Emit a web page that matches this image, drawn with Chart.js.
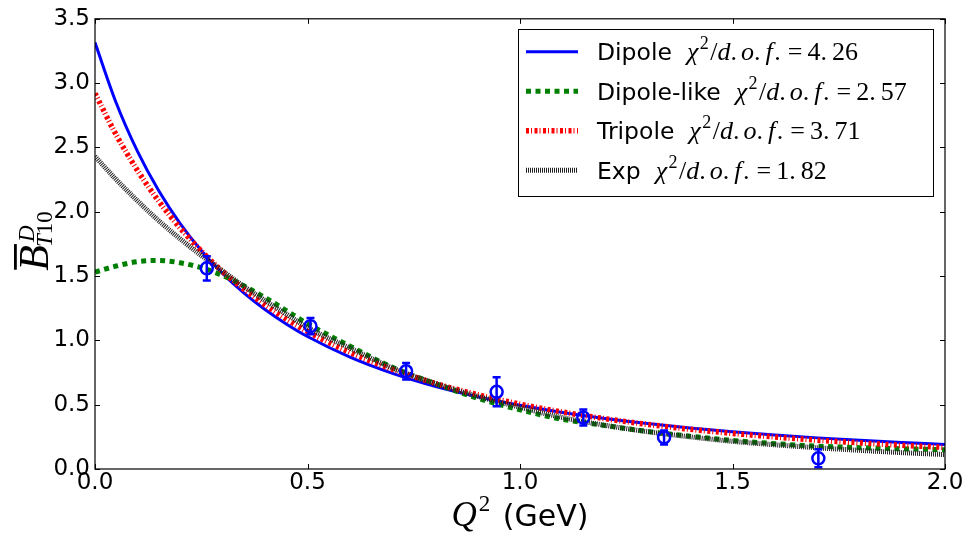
<!DOCTYPE html>
<html>
<head>
<meta charset="utf-8">
<script src="https://cdn.jsdelivr.net/npm/chart.js@4.4.1/dist/chart.umd.min.js"></script>
<style>
  html, body { margin: 0; padding: 0; background: #ffffff; }
  #wrap { width: 966px; height: 535px; position: relative; }
</style>
</head>
<body>
<div id="wrap"><canvas id="chart" width="966" height="535"></canvas></div>
<script>
// Q^2 sampling grid (GeV) for the fitted form-factor curves
const q2 = [0, 0.05, 0.1, 0.15, 0.2, 0.25, 0.3, 0.35, 0.4, 0.45, 0.5, 0.6, 0.7, 0.8, 0.9, 1.0, 1.1, 1.2, 1.3, 1.4, 1.5, 1.6, 1.7, 1.8, 1.9, 2.0];

// fitted curves
const dipole     = [3.315, 2.845, 2.469, 2.163, 1.910, 1.699, 1.521, 1.370, 1.240, 1.128, 1.030, 0.870, 0.744, 0.643, 0.562, 0.495, 0.440, 0.393, 0.353, 0.319, 0.290, 0.265, 0.242, 0.223, 0.206, 0.190];
const dipoleLike = [1.530, 1.578, 1.612, 1.622, 1.603, 1.565, 1.505, 1.424, 1.333, 1.232, 1.130, 0.955, 0.790, 0.665, 0.550, 0.460, 0.386, 0.338, 0.292, 0.255, 0.222, 0.197, 0.178, 0.166, 0.157, 0.150];
const tripole    = [2.920, 2.597, 2.321, 2.082, 1.875, 1.695, 1.536, 1.398, 1.275, 1.166, 1.069, 0.906, 0.774, 0.666, 0.578, 0.504, 0.443, 0.391, 0.347, 0.309, 0.277, 0.249, 0.224, 0.203, 0.184, 0.168];
const expFit     = [2.430, 2.250, 2.085, 1.930, 1.790, 1.660, 1.540, 1.420, 1.310, 1.205, 1.100, 0.940, 0.785, 0.665, 0.565, 0.480, 0.400, 0.340, 0.290, 0.250, 0.215, 0.188, 0.165, 0.145, 0.127, 0.112];

// lattice data points with errors
const latQ2  = [0.263, 0.507, 0.732, 0.945, 1.149, 1.339, 1.702];
const latVal = [1.56, 1.11, 0.76, 0.60, 0.40, 0.245, 0.083];
const latErr = [0.094, 0.063, 0.065, 0.113, 0.062, 0.055, 0.070];

// legend text
const seriesNames = ['Dipole', 'Dipole-like', 'Tripole', 'Exp'];
const chi2Values  = ['4.26', '2.57', '3.71', '1.82'];

// axis ticks
const xTicks = [0, 0.5, 1.0, 1.5, 2.0];
const yTicks = [0, 0.5, 1.0, 1.5, 2.0, 2.5, 3.0, 3.5];

const SANS = '"DejaVu Sans", sans-serif';
const SERIF = '"Liberation Serif", "DejaVu Serif", serif';

const lineStyles = [
  { color: '#0000ff', width: 3,   dash: [] },
  { color: '#007f00', width: 5,   dash: [5, 4.5] },
  { color: '#ff0000', width: 5.5, dash: [3, 2, 1, 2.5] },
  { color: '#222222', width: 5,   dash: [1, 1] }
];
const curves = [dipole, dipoleLike, tripole, expFit];

const toPts = (xs, ys) => xs.map((x, i) => ({ x: x, y: ys[i] }));

const datasets = curves.map((ys, k) => ({
  label: seriesNames[k],
  data: toPts(q2, ys),
  showLine: true,
  borderColor: lineStyles[k].color,
  borderWidth: lineStyles[k].width,
  borderDash: lineStyles[k].dash,
  borderCapStyle: 'butt',
  pointRadius: 0,
  cubicInterpolationMode: 'monotone',
  fill: false,
  order: 4 - k
}));
datasets.push({
  label: 'lattice',
  data: toPts(latQ2, latVal),
  showLine: false,
  pointRadius: 6,
  pointBorderWidth: 2.5,
  pointBorderColor: '#0000ff',
  pointBackgroundColor: 'rgba(0,0,0,0)',
  order: 0
});

// error bars for the lattice points
const errorBars = {
  id: 'errorBars',
  afterDatasetsDraw(chart) {
    const { ctx, scales: { x, y } } = chart;
    ctx.save();
    ctx.strokeStyle = '#0000ff';
    ctx.lineWidth = 2.5;
    latQ2.forEach((q, i) => {
      const px = x.getPixelForValue(q);
      const yt = y.getPixelForValue(latVal[i] + latErr[i]);
      const yb = y.getPixelForValue(latVal[i] - latErr[i]);
      ctx.beginPath();
      ctx.moveTo(px, yt); ctx.lineTo(px, yb);
      ctx.moveTo(px - 4, yt); ctx.lineTo(px + 4, yt);
      ctx.moveTo(px - 4, yb); ctx.lineTo(px + 4, yb);
      ctx.stroke();
    });
    ctx.restore();
  }
};

// axes frame with inward tick marks on all four sides
const frame = {
  id: 'frame',
  afterDraw(chart) {
    const { ctx, chartArea: a, scales: { x, y } } = chart;
    ctx.save();
    ctx.strokeStyle = '#000';
    ctx.lineWidth = 1.2;
    ctx.strokeRect(a.left, a.top, a.right - a.left, a.bottom - a.top);
    ctx.lineWidth = 1;
    ctx.beginPath();
    xTicks.forEach(v => {
      const px = Math.round(x.getPixelForValue(v)) + 0.5;
      ctx.moveTo(px, a.bottom); ctx.lineTo(px, a.bottom - 5);
      ctx.moveTo(px, a.top); ctx.lineTo(px, a.top + 5);
    });
    yTicks.forEach(v => {
      const py = Math.round(y.getPixelForValue(v)) + 0.5;
      ctx.moveTo(a.left, py); ctx.lineTo(a.left + 5, py);
      ctx.moveTo(a.right, py); ctx.lineTo(a.right - 5, py);
    });
    ctx.stroke();
    ctx.restore();
  }
};

// draws a run of text pieces with mixed fonts, returns end x
function drawRuns(ctx, x, y, runs, measureOnly) {
  let cx = x;
  runs.forEach(r => {
    ctx.font = r.font;
    cx += (r.pre || 0);
    if (!measureOnly) ctx.fillText(r.t, cx, y + (r.dy || 0));
    cx += ctx.measureText(r.t).width + (r.post || 0);
  });
  return cx;
}

function chiRuns(val) {
  const it = 'italic 26px ' + SERIF, up = '26px ' + SERIF, sm = '18px ' + SERIF;
  const parts = val.split('.');
  return [
    { t: '\u03C7', font: it },
    { t: '2', font: sm, dy: -11, pre: 1.5 },
    { t: '/', font: up, pre: 1.5 },
    { t: 'd', font: it },
    { t: '.', font: up, post: 4 },
    { t: 'o', font: it },
    { t: '.', font: up, post: 4 },
    { t: 'f', font: it, pre: 1 },
    { t: '.', font: up, pre: 1.5, post: 7 },
    { t: '=', font: up, post: 5 },
    { t: parts[0], font: up },
    { t: '.', font: up, post: 5 },
    { t: parts[1], font: up }
  ];
}

// legend box
const legendBox = {
  id: 'legendBox',
  afterDraw(chart) {
    const ctx = chart.ctx;
    ctx.save();
    ctx.fillStyle = '#fff';
    ctx.strokeStyle = '#000';
    ctx.lineWidth = 1;
    ctx.fillRect(518, 29, 415, 167);
    ctx.strokeRect(518.5, 29.5, 415, 167);
    seriesNames.forEach((name, k) => {
      const ry = 51.7 + k * 39.5;
      const st = lineStyles[k];
      ctx.strokeStyle = st.color;
      ctx.lineWidth = st.width;
      ctx.lineCap = 'butt';
      ctx.setLineDash(st.dash);
      ctx.beginPath();
      ctx.moveTo(526, ry); ctx.lineTo(578, ry);
      ctx.stroke();
      ctx.setLineDash([]);
      ctx.fillStyle = '#000';
      ctx.textBaseline = 'alphabetic';
      ctx.textAlign = 'left';
      ctx.font = '23.5px ' + SANS;
      ctx.fillText(name, 597, ry + 8.5);
      const mx = 597 + ctx.measureText(name).width + 15;
      drawRuns(ctx, mx, ry + 8.5, chiRuns(chi2Values[k]));
    });
    ctx.restore();
  }
};

// axis titles
const axisTitles = {
  id: 'axisTitles',
  afterDraw(chart) {
    const { ctx, chartArea: a } = chart;
    ctx.save();
    ctx.fillStyle = '#000';
    ctx.textBaseline = 'alphabetic';
    ctx.textAlign = 'left';

    // x title: Q^2 (GeV)
    const xr = [
      { t: 'Q', font: 'italic 35px ' + SERIF },
      { t: '2', font: '23px ' + SERIF, dy: -15, pre: 2, post: 3 },
      { t: ' (GeV)', font: '30px ' + SANS }
    ];
    const wx = drawRuns(ctx, 0, 0, xr, true);
    drawRuns(ctx, (a.left + a.right) / 2 - wx / 2, 526, xr);

    // y title: overlined B with superscript D and subscript T10
    ctx.translate(48, 240);
    ctx.rotate(-Math.PI / 2);
    const fB = 'italic 42px ' + SERIF;
    const fS = 'italic 23px ' + SERIF;
    const fU = '23px ' + SERIF;
    ctx.font = fB;
    const wB = ctx.measureText('B').width;
    ctx.font = fS;
    const wD = ctx.measureText('D').width;
    const wT = ctx.measureText('T').width;
    ctx.font = fU;
    const w10 = ctx.measureText('10').width;
    const total = wB + Math.max(wD + 3, wT + w10);
    const s = -total / 2;
    ctx.font = fB;
    ctx.fillText('B', s, 0);
    ctx.fillRect(s + 1, -34, wB, 2.8);
    ctx.font = fS;
    ctx.fillText('D', s + wB + 3, -14);
    ctx.fillText('T', s + wB - 2, 4);
    ctx.font = fU;
    ctx.fillText('10', s + wB - 2 + wT, 4);
    ctx.restore();
  }
};

Chart.defaults.font.family = SANS;
Chart.defaults.color = '#000';

new Chart(document.getElementById('chart'), {
  type: 'scatter',
  data: { datasets: datasets },
  options: {
    responsive: false,
    animation: false,
    events: [],
    layout: { padding: { top: 16, right: 21, left: 0, bottom: 0 } },
    plugins: { legend: { display: false }, tooltip: { enabled: false } },
    scales: {
      x: {
        type: 'linear', min: 0, max: 2,
        afterFit: s => { s.height = 66; },
        afterBuildTicks: s => { s.ticks = xTicks.map(v => ({ value: v })); },
        ticks: { callback: v => Number(v).toFixed(1), font: { size: 23 }, color: '#000', padding: 0, maxRotation: 0, autoSkip: false },
        grid: { display: false, drawTicks: false },
        border: { display: false }
      },
      y: {
        type: 'linear', min: 0, max: 3.5,
        afterFit: s => { s.width = 95; },
        afterBuildTicks: s => { s.ticks = yTicks.map(v => ({ value: v })); },
        ticks: { callback: v => Number(v).toFixed(1), font: { size: 23 }, color: '#000', padding: 5, autoSkip: false },
        grid: { display: false, drawTicks: false },
        border: { display: false }
      }
    }
  },
  plugins: [errorBars, frame, legendBox, axisTitles]
});
</script>
</body>
</html>
